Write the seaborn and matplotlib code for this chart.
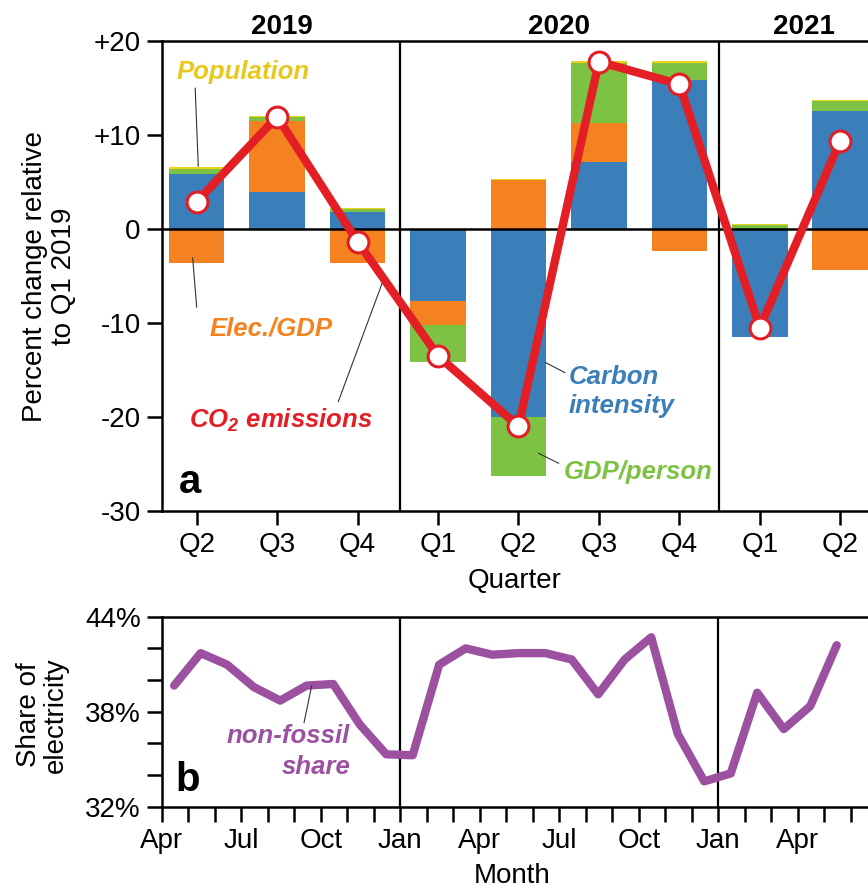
import numpy as np
import matplotlib
matplotlib.use("Agg")
import matplotlib.pyplot as plt
import seaborn as sns

# ---- panel a: quarterly decomposition (percent change relative to Q1 2019) ----
quarters = ["Q2", "Q3", "Q4", "Q1", "Q2", "Q3", "Q4", "Q1", "Q2"]
year_labels = ["2019", "2020", "2021"]
carbon_intensity = [5.85, 3.9, 1.85, -7.65, -20.05, 7.1, 15.85, -11.45, 12.6]
elec_per_gdp = [-3.65, 7.6, -3.6, -2.6, 5.2, 4.2, -2.3, 0.0, -4.35]
gdp_per_person = [0.5, 0.4, 0.25, -3.95, -6.25, 6.4, 1.85, 0.45, 1.05]
population = [0.2, 0.15, 0.15, 0.0, 0.1, 0.15, 0.15, 0.1, 0.1]
co2_emissions = [2.9, 11.95, -1.35, -13.5, -21.0, 17.8, 15.4, -10.5, 9.4]
pct_ticks = [-30, -20, -10, 0, 10, 20]
pct_tick_labels = ["-30", "-20", "-10", "0", "+10", "+20"]

# ---- panel b: monthly non-fossil share of electricity (Apr 2019 - May 2021) ----
month_tick_labels = ["Apr", "", "", "Jul", "", "", "Oct", "", "",
                     "Jan", "", "", "Apr", "", "", "Jul", "", "", "Oct", "", "",
                     "Jan", "", "", "Apr", "", ""]
nonfossil_share = [39.65, 41.7, 40.97, 39.56, 38.7, 39.65, 39.75, 37.2, 35.31,
                   35.25, 40.97, 42.0, 41.6, 41.7, 41.7, 41.3, 39.1, 41.3, 42.7,
                   36.6, 33.6, 34.1, 39.2, 36.9, 38.35, 42.2]
share_ticks = [32, 34, 36, 38, 40, 42, 44]
share_tick_labels = ["32%", "", "", "38%", "", "", "44%"]

BLUE = "#3A7FBA"
ORANGE = "#F58220"
GREEN = "#7DC242"
YELLOW = "#EFD21B"
RED = "#E31E24"
PURPLE = "#9B50A0"
LEADER = "#333333"

sns.set_style("ticks")
plt.rcParams["font.family"] = ["Liberation Sans", "DejaVu Sans"]
plt.rcParams["text.color"] = "black"
plt.rcParams["axes.labelcolor"] = "black"
plt.rcParams["xtick.color"] = "black"
plt.rcParams["ytick.color"] = "black"
plt.rcParams["mathtext.fontset"] = "custom"
plt.rcParams["mathtext.rm"] = "Liberation Sans:bold:italic"
plt.rcParams["mathtext.it"] = "Liberation Sans:bold:italic"
plt.rcParams["mathtext.bf"] = "Liberation Sans:bold:italic"

W, H = 868, 888
fig = plt.figure(figsize=(W / 100, H / 100), dpi=100)


def px_rect(left, top, right, bottom):
    return [left / W, 1 - bottom / H, (right - left) / W, (bottom - top) / H]


ax = fig.add_axes(px_rect(161.7, 41, 868, 511))
ax2 = fig.add_axes(px_rect(161.7, 616.7, 868, 806.7))

SPINE = 1.8
for a in (ax, ax2):
    for s in ("left", "top", "bottom"):
        a.spines[s].set_linewidth(SPINE)
        a.spines[s].set_color("black")
    a.spines["right"].set_visible(False)
    a.tick_params(direction="out", width=SPINE, color="black", labelsize=20,
                  labelcolor="black")

# ---- stacked bars ----
x = np.arange(len(quarters))
pos_base = np.zeros(len(x))
neg_base = np.zeros(len(x))
for vals, color in [(carbon_intensity, BLUE), (elec_per_gdp, ORANGE),
                    (gdp_per_person, GREEN), (population, YELLOW)]:
    v = np.asarray(vals, dtype=float)
    base = np.where(v >= 0, pos_base, neg_base)
    ax.bar(x, v, width=0.69, bottom=base, color=color, linewidth=0, zorder=2)
    pos_base += np.clip(v, 0, None)
    neg_base += np.clip(v, None, 0)

ax.axhline(0, color="black", lw=SPINE, zorder=3)
for xd in (2.53, 6.49):
    ax.axvline(xd, color="black", lw=1.6, zorder=3)

sns.lineplot(x=x, y=co2_emissions, ax=ax, color=RED, lw=6, marker="o",
             markersize=15, markerfacecolor="white", markeredgecolor=RED,
             markeredgewidth=2.2, zorder=5, solid_capstyle="round")

ax.set_xlim(-0.435, 8.345)
ax.set_ylim(-30, 20)
ax.set_xticks(x)
ax.set_xticklabels(quarters)
ax.set_yticks(pct_ticks)
ax.set_yticklabels(pct_tick_labels)
ax.tick_params(axis="y", length=11, pad=4)
ax.tick_params(axis="x", length=10, pad=5)
ax.set_xlabel("")
ax.set_ylabel("")

# year headers
for xc, yr in zip([1.06, 4.5, 7.55], year_labels):
    ax.text(xc, 1.014, yr, transform=ax.get_xaxis_transform(),
            ha="center", va="baseline", fontsize=20, fontweight="bold",
            color="black")

# inline labels with leader lines
lab = dict(fontsize=18.5, fontweight="bold", fontstyle="italic", va="baseline")
ax.text(-0.249, 15.93, "Population", color="#E9C81D", ha="left", **lab)
ax.plot([-0.019, 0.02], [15.0, 6.66], color=LEADER, lw=0.8, zorder=4)
ax.text(0.165, -11.38, "Elec./GDP", color=ORANGE, ha="left", **lab)
ax.plot([-0.05, 0.0], [-3.05, -8.33], color=LEADER, lw=0.8, zorder=4)
ax.text(-0.092, -21.14, "CO$_2$ emissions", color=RED, ha="left", **lab)
ax.plot([2.32, 1.76], [-5.43, -18.37], color=LEADER, lw=0.8, zorder=4)
ax.text(4.62, -16.52, "Carbon", color=BLUE, ha="left", **lab)
ax.text(4.62, -19.6, "intensity", color=BLUE, ha="left", **lab)
ax.plot([4.33, 4.58], [-14.18, -15.29], color=LEADER, lw=0.8, zorder=4)
ax.text(4.56, -26.63, "GDP/person", color=GREEN, ha="left", **lab)
ax.plot([4.25, 4.50], [-23.86, -24.93], color=LEADER, lw=0.8, zorder=4)
ax.text(-0.216, -28.12, "a", fontsize=29, fontweight="bold", ha="left",
        va="baseline", color="black")

# ---- panel b ----
mx = np.arange(len(nonfossil_share)) + 0.47
for xd in (9, 21):
    ax2.axvline(xd, color="black", lw=1.6, zorder=3)
sns.lineplot(x=mx, y=nonfossil_share, ax=ax2, color=PURPLE, lw=6,
             zorder=4, solid_capstyle="round")
ax2.set_xlim(0, 26.65)
ax2.set_ylim(32, 44)
ax2.set_xticks(np.arange(len(month_tick_labels)))
ax2.set_xticklabels(month_tick_labels)
ax2.set_yticks(share_ticks)
ax2.set_yticklabels(share_tick_labels)
ax2.tick_params(axis="y", length=11, pad=4)
ax2.tick_params(axis="x", length=11, pad=4)
ax2.set_xlabel("")
ax2.set_ylabel("")
ax2.text(7.11, 36.0, "non-fossil", color=PURPLE, ha="right", **lab)
ax2.text(7.11, 34.06, "share", color=PURPLE, ha="right", **lab)
ax2.plot([5.66, 5.37], [39.65, 37.3], color=LEADER, lw=0.8, zorder=5)
ax2.text(0.5, 33.0, "b", fontsize=29, fontweight="bold", ha="left",
         va="baseline", color="black")

# axis titles
fig.text(50 / W, 1 - 276 / H, "Percent change relative\nto Q1 2019",
         rotation=90, ha="center", va="center", fontsize=20,
         multialignment="center", linespacing=1.15, color="black")
fig.text(42 / W, 1 - 715 / H, "Share of\nelectricity", rotation=90,
         ha="center", va="center", fontsize=20, multialignment="center",
         linespacing=1.05, color="black")
fig.text(515 / W, 1 - 588.3 / H, "Quarter", ha="center", va="baseline",
         fontsize=20, color="black")
fig.text(512.5 / W, 1 - 882.7 / H, "Month", ha="center", va="baseline",
         fontsize=20, color="black")

fig.savefig("out.png", dpi=100)
